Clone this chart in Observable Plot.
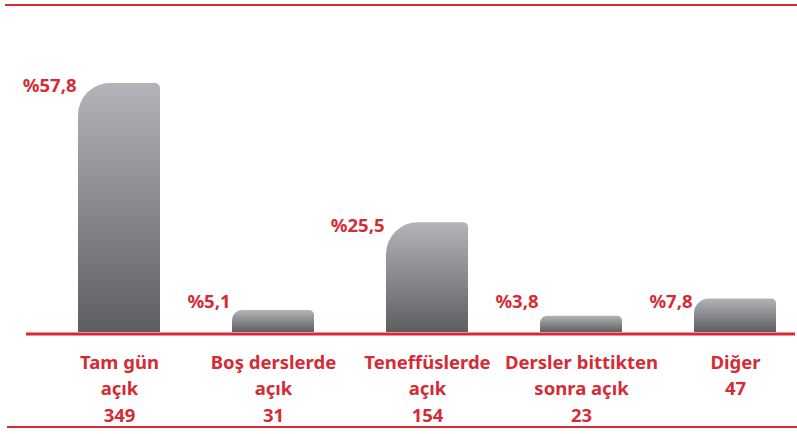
<!DOCTYPE html>
<html>
<head>
<meta charset="utf-8">
<script src="https://cdn.jsdelivr.net/npm/d3@7"></script>
<script src="https://cdn.jsdelivr.net/npm/@observablehq/plot@0.6"></script>
<style>
  html, body { margin: 0; padding: 0; background: #fff; }
  #wrap { position: relative; width: 797px; height: 434px; }
  .deco { position: absolute; background: #d52b35; height: 2px; }
</style>
</head>
<body>
<div id="wrap">
  <div class="deco" style="left:5px; right:0; top:4px;"></div>
  <div class="deco" style="left:7px; right:0; top:426px;"></div>
</div>
<script>
const categories = ["Tam gün\naçık", "Boş derslerde\naçık", "Teneffüslerde\naçık", "Dersler bittikten\nsonra açık", "Diğer"];
const percents = [57.8, 5.1, 25.5, 3.8, 7.8];
const counts = [349, 31, 154, 23, 47];
const percentLabels = ["%57,8", "%5,1", "%25,5", "%3,8", "%7,8"];

const RED = "#d52b35";
const data = categories.map((c, i) => ({
  cat: c,
  pct: percents[i],
  count: counts[i],
  pctLabel: percentLabels[i],
  catLabel: c + "\n" + counts[i]
}));

const svg = Plot.plot({
  width: 797,
  height: 434,
  marginTop: 83,
  marginBottom: 102,
  marginLeft: 61.5,
  marginRight: 4.5,
  style: { fontFamily: "'Noto Sans', sans-serif", background: "transparent", overflow: "visible" },
  x: { domain: categories, paddingInner: 0.47, paddingOuter: 0.1, axis: null },
  y: { domain: [0, 57.8], axis: null },
  marks: [
    Plot.barY(data, { x: "cat", y: "pct", fill: "url(#barGrad)" }),
    Plot.ruleY([0], { stroke: RED, strokeWidth: 3, dy: 1.5, insetLeft: -35.5, insetRight: -2.5 }),
    Plot.text(data, {
      x: "cat", y: d => Math.max(d.pct, 7.8), text: "pctLabel",
      textAnchor: "end", dx: -43, dy: 3,
      fill: RED, fontSize: 18.5, fontWeight: 700
    }),
    Plot.text(data, {
      x: "cat", y: () => 0, text: "catLabel",
      lineAnchor: "top", dy: 18, lineHeight: 1.42,
      fill: RED, fontSize: 18.5, fontWeight: 700
    })
  ]
});

// gradient definition
const ns = "http://www.w3.org/2000/svg";
const defs = document.createElementNS(ns, "defs");
defs.innerHTML = `<linearGradient id="barGrad" x1="0" y1="0" x2="0" y2="1">
  <stop offset="0" stop-color="#b3b4b8"/>
  <stop offset="1" stop-color="#5d5e62"/>
</linearGradient>`;
svg.insertBefore(defs, svg.firstChild);

// rounded top corners (big top-left, small top-right)
svg.querySelectorAll('g[aria-label="bar"] rect').forEach(r => {
  const x = +r.getAttribute("x"), y = +r.getAttribute("y");
  const w = +r.getAttribute("width"), h = +r.getAttribute("height");
  const rl = Math.min(32, h * 0.45), rr = Math.min(5, h * 0.35);
  const p = document.createElementNS(ns, "path");
  p.setAttribute("d", `M${x},${y + h}V${y + rl}A${rl},${rl} 0 0 1 ${x + rl},${y}H${x + w - rr}A${rr},${rr} 0 0 1 ${x + w},${y + rr}V${y + h}Z`);
  for (const a of r.attributes) if (!["x", "y", "width", "height"].includes(a.name)) p.setAttribute(a.name, a.value);
  r.replaceWith(p);
});

svg.style.position = "absolute";
svg.style.left = "0";
svg.style.top = "0";
document.getElementById("wrap").appendChild(svg);
</script>
</body>
</html>
